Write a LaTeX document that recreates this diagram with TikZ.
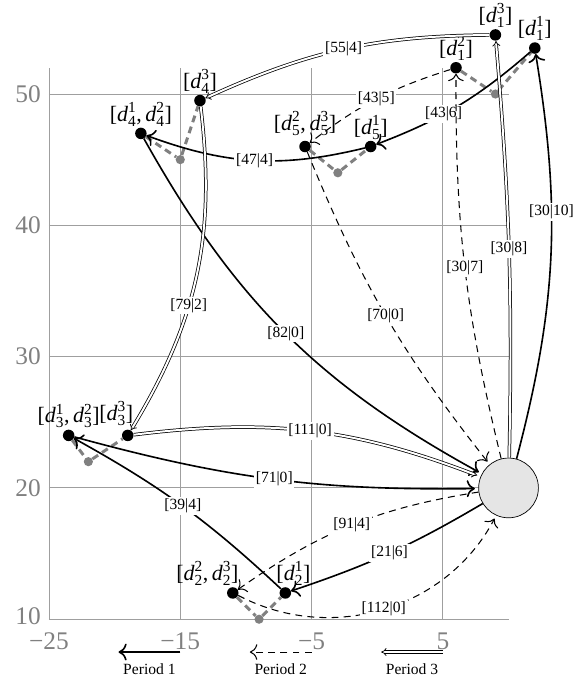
\documentclass[tikz,border=0pt]{standalone}
\usepackage{amsmath}
\usepackage{fontspec}
\setmainfont{Liberation Serif}
\usepackage{tikz}
\usetikzlibrary{calc,arrows.meta}

\newcommand{\dv}[2]{\ensuremath{\textit{d}^{\text{#1}}_{\text{#2}}}}

\tikzset{
  gridline/.style={gray!75, line width=0.8pt},
  ticklab/.style={text=gray, font=\fontsize{22}{24}\selectfont, inner sep=0pt},
  dot/.style={circle, fill=black, inner sep=0pt, minimum size=0.35cm},
  greydot/.style={circle, fill=gray, inner sep=0pt, minimum size=0.28cm},
  depotnode/.style={circle, draw, semithick, fill=gray!20, inner sep=0pt, minimum size=1.82cm},
  link/.style={gray, line width=2.6pt, dash pattern=on 6pt off 4pt},
  dlab/.style={font=\fontsize{19}{21}\selectfont, inner sep=1pt},
  elab/.style={fill=white, font=\fontsize{13.5}{15}\selectfont, inner sep=1.5pt},
  per1/.style={-{To[scale=1.5]}, line width=1.4pt},
  per2/.style={-{To[scale=1.8]}, line width=0.9pt, dash pattern=on 6pt off 4.5pt},
  per3/.style={-{Implies[scale=1.6]}, double, double distance=1.7pt, line width=0.65pt},
  todepot/.style={shorten >=3pt},
}

\begin{document}
\begin{tikzpicture}[x=0.4cm, y=0.4cm]
  \useasboundingbox (-28.73,5.60) rectangle (15.06,57.16);

  % grid and axes
  \foreach \xv in {-25,-15,-5,5}
    \draw[gridline] (\xv,10) -- (\xv,52);
  \foreach \yv in {10,20,...,50}
    \draw[gridline] (-25,\yv) -- (10,\yv);
  \foreach \yv in {20,30,...,50}
    \node[ticklab, anchor=east] (ty\yv) at (-25.6,\yv) {\yv};
  \node[ticklab, anchor=east] (ty10) at (-25.6,10.25) {10};
  \node[ticklab] (tx1) at (-25,8.35) {−25};
  \node[ticklab] (tx2) at (-15,8.35) {−15};
  \node[ticklab] (tx3) at (-5,8.35) {−5};
  \node[ticklab] (tx4) at (5,8.35) {5};

  % depot
  \node[depotnode] (depot) at (10,20) {};

  % customers
  \node[dot, label={[dlab]above:{[\dv{1}{1}]}}] (d1a) at (12,53.5) {};
  \node[dot, label={[dlab]above:{[\dv{2}{1}]}}] (d1b) at (6,52) {};
  \node[dot, label={[dlab]above:{[\dv{3}{1}]}}] (d1c) at (9,54.5) {};
  \node[greydot] (g1) at (9,50) {};

  \node[dot, label={[dlab, xshift=7pt]above:{[\dv{1}{2}]}}] (d2a) at (-7,12) {};
  \node[dot, label={[dlab, xshift=-22pt]above:{[\dv{2}{2},\thinspace\dv{3}{2}]}}] (d2bc) at (-11,12) {};
  \node[greydot] (g2) at (-9,10) {};

  \node[dot, label={[dlab]above:{[\dv{1}{3},\thinspace\dv{2}{3}]}}] (d3ab) at (-23.5,24) {};
  \node[dot, label={[dlab, xshift=-10pt, yshift=2pt]above:{[\dv{3}{3}]}}] (d3c) at (-19,24) {};
  \node[greydot] (g3) at (-22,22) {};

  \node[dot, label={[dlab]above:{[\dv{1}{4},\thinspace\dv{2}{4}]}}] (d4ab) at (-18,47) {};
  \node[dot, label={[dlab]above:{[\dv{3}{4}]}}] (d4c) at (-13.5,49.5) {};
  \node[greydot] (g4) at (-15,45) {};

  \node[dot, label={[dlab]above:{[\dv{1}{5}]}}] (d5a) at (-0.5,46) {};
  \node[dot, label={[dlab, yshift=3pt]above:{[\dv{2}{5},\thinspace\dv{3}{5}]}}] (d5bc) at (-5.5,46) {};
  \node[greydot] (g5) at (-3,44) {};

  % split deliveries
  \draw[link] (d1b) -- (g1) -- (d1a);
  \draw[link] (d2bc) -- (g2) -- (d2a);
  \draw[link] (d3ab) -- (g3) -- (d3c);
  \draw[link] (d4ab) -- (g4) -- (d4c);
  \draw[link] (d5bc) -- (g5) -- (d5a);

  % period 1
  \draw[per1] (depot) to[bend right=12] node[elab, pos=0.62] {[30|10]} (d1a);
  \draw[per1] (d1a) to[bend left=10] node[elab, pos=0.6] {[43|6]} (d5a);
  \draw[per1] (d5a) to[bend left=17] node[elab] {[47|4]} (d4ab);
  \draw[per1, todepot] (d4ab) to[bend right=16] node[elab] {[82|0]} (depot);
  \draw[per1] (depot) to[bend left=6] node[elab] {[21|6]} (d2a);
  \draw[per1] (d2a) to[bend right=7] node[elab] {[39|4]} (d3ab);
  \draw[per1, todepot] (d3ab) to[bend right=8] node[elab] {[71|0]} (depot);

  % period 2
  \draw[per2] (depot) to[bend left=7] node[elab] {[30|7]} (d1b);
  \draw[per2] (d1b) to[bend right=10] node[elab] {[43|5]} (d5bc);
  \draw[per2, todepot] (d5bc) to[bend right=8] node[elab] {[70|0]} (depot);
  \draw[per2] (depot) to[bend right=13] node[elab] {[91|4]} (d2bc);
  \draw[per2, todepot] (d2bc) to[bend right=45] node[elab] {[112|0]} (depot);

  % period 3
  \draw[per3] (depot) to[bend right=3] node[elab] {[30|8]} (d1c);
  \draw[per3] (d1c) to[bend right=12] node[elab] {[55|4]} (d4c);
  \draw[per3] (d4c) to[bend left=19] node[elab, pos=0.6] {[79|2]} (d3c);
  \draw[per3, todepot] (d3c) to[bend left=14] node[elab] {[111|0]} (depot);

  % legend
  \coordinate (l1s) at (-15,7.5);
  \coordinate (l1e) at (-19.7,7.5);
  \coordinate (l2s) at (-5,7.5);
  \coordinate (l2e) at (-9.7,7.5);
  \coordinate (l3s) at (5,7.5);
  \coordinate (l3e) at (0.3,7.5);
  \draw[per1] (l1s) -- (l1e);
  \draw[per2] (l2s) -- (l2e);
  \draw[per3] (l3s) -- (l3e);
  \node[elab] (p1) at (-17.35,6.2) {Period 1};
  \node[elab] (p2) at (-7.35,6.2) {Period 2};
  \node[elab] (p3) at (2.65,6.2) {Period 3};
\end{tikzpicture}
\end{document}
